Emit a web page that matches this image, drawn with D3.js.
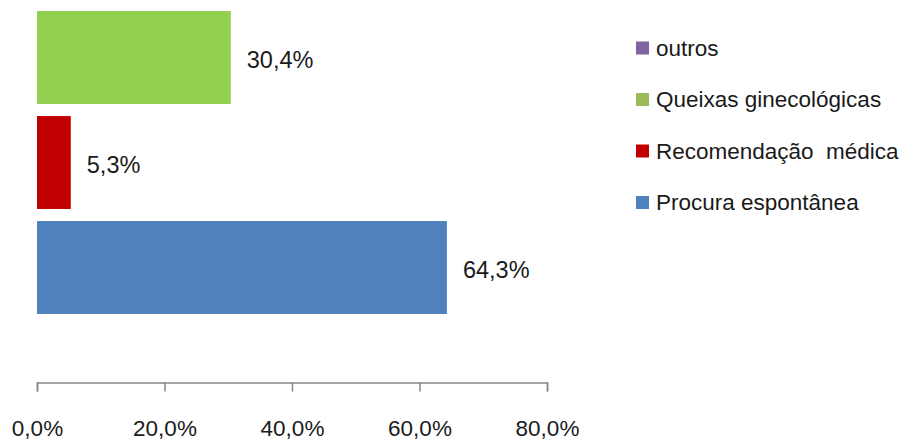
<!DOCTYPE html>
<html><head><meta charset="utf-8">
<script src="https://cdn.jsdelivr.net/npm/d3@7"></script>
<style>html,body{margin:0;padding:0;background:#fff;}</style>
</head><body>
<svg id="c" width="906" height="441"></svg>
<script>
const categories = ["outros", "Queixas ginecológicas", "Recomendação  médica", "Procura espontânea"];
const values = [0, 30.4, 5.3, 64.3];
const barColors = ["#8064A2", "#92D050", "#C00000", "#4F81BD"];
const legendColors = ["#8064A2", "#9BBB59", "#C00000", "#4F81BD"];
const tickValues = [0, 20, 40, 60, 80];

const svg = d3.select("#c");
const font = "'Liberation Sans', Arial, sans-serif";
const x = d3.scaleLinear().domain([0, 80]).range([37, 547]);
const y = d3.scaleBand().domain(categories).range([-100, 320]).paddingInner(0.115).paddingOuter(0.0575);
const fmt = v => d3.format(".1f")(v).replace(".", ",") + "%";

svg.selectAll("rect.bar").data(categories).join("rect")
  .attr("class", "bar")
  .attr("x", x(0)).attr("y", d => y(d))
  .attr("width", (d, i) => x(values[i]) - x(0))
  .attr("height", y.bandwidth())
  .attr("fill", (d, i) => barColors[i]);

svg.selectAll("text.val").data(categories.filter((d, i) => values[i] > 0)).join("text")
  .attr("class", "val")
  .attr("x", d => x(values[categories.indexOf(d)]) + 16)
  .attr("y", d => y(d) + y.bandwidth() / 2 + 2)
  .attr("dy", "0.35em")
  .attr("font-family", font).attr("font-size", 23.5).attr("fill", "#1a1a1a")
  .text(d => fmt(values[categories.indexOf(d)]));

const axis = d3.axisBottom(x).tickValues(tickValues).tickSize(9).tickSizeOuter(9).tickFormat(d => fmt(d));
const g = svg.append("g").attr("transform", "translate(0,382.5)").call(axis);
g.select(".domain").attr("stroke", "#868686").attr("stroke-width", 1.5);
g.selectAll(".tick line").attr("stroke", "#868686").attr("stroke-width", 1.5);
g.selectAll(".tick text").attr("font-family", font).attr("font-size", 22.5).attr("fill", "#1a1a1a").attr("y", 46).attr("dy", "0.35em");

const leg = svg.append("g");
const rows = leg.selectAll("g").data(categories).join("g")
  .attr("transform", (d, i) => `translate(636,${48 + i * 51.5})`);
rows.append("rect").attr("x", 0).attr("y", -6.5).attr("width", 13).attr("height", 13)
  .attr("fill", (d, i) => legendColors[i]);
rows.append("text").attr("x", 20).attr("dy", "0.35em")
  .attr("font-family", font).attr("font-size", 22.5).attr("fill", "#1a1a1a")
  .attr("xml:space", "preserve").style("white-space", "pre")
  .text(d => d);
</script>
</body></html>
